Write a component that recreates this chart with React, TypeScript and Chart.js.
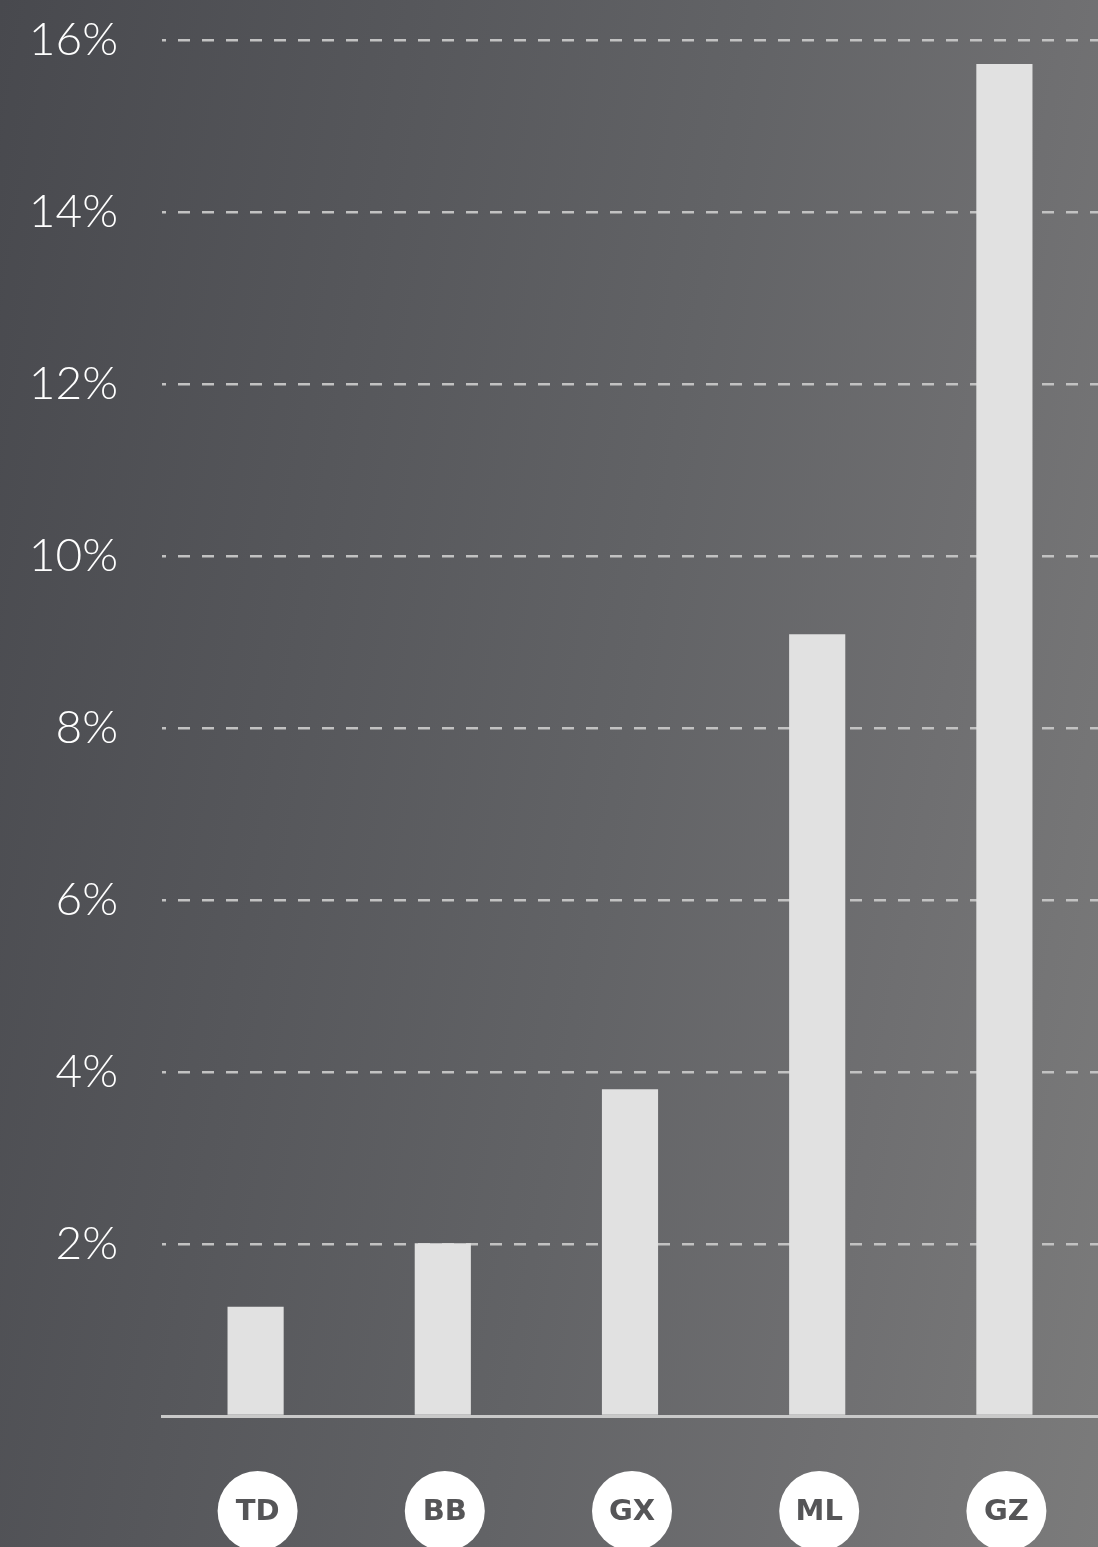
import React, { useEffect, useRef } from "react";
import { Chart, registerables } from "chart.js";

Chart.register(...registerables);

const categories = ["TD", "BB", "GX", "ML", "GZ"];
const values = [1.27, 2.01, 3.8, 9.09, 15.72];
const yTicks = [0, 2, 4, 6, 8, 10, 12, 14, 16];

const W = 1098;
const H = 1547;

const badgePlugin = {
  id: "badges",
  afterDraw(chart: any) {
    const ctx = chart.ctx;
    const xs = chart.scales.x;
    const cy = 1511;
    ctx.save();
    categories.forEach((c, i) => {
      const cx = xs.getPixelForValue(i) + 2;
      ctx.beginPath();
      ctx.arc(cx, cy, 40, 0, Math.PI * 2);
      ctx.fillStyle = "#ffffff";
      ctx.fill();
      ctx.fillStyle = "#555557";
      ctx.font = "bold 29px 'DejaVu Sans', sans-serif";
      ctx.textAlign = "center";
      ctx.textBaseline = "middle";
      ctx.fillText(c, cx, cy + 1);
    });
    ctx.restore();
  },
};

export default function App() {
  const ref = useRef<HTMLCanvasElement>(null);
  useEffect(() => {
    if (!ref.current) return;
    const chart = new Chart(ref.current, {
      type: "bar",
      data: {
        labels: categories,
        datasets: [
          {
            data: values,
            backgroundColor: "#e1e1e1",
            barPercentage: 0.3,
            categoryPercentage: 1,
          },
        ],
      },
      options: {
        animation: false,
        responsive: false,
        maintainAspectRatio: false,
        layout: { padding: { top: 40, bottom: 131, left: 0, right: 0 } },
        plugins: { legend: { display: false }, tooltip: { enabled: false } },
        scales: {
          x: {
            ticks: { display: false },
            grid: { display: false, drawTicks: false },
            border: { display: true, color: "#c9c9c9", width: 3 },
          },
          y: {
            min: 0,
            max: 16,
            afterFit(scale: any) {
              scale.width = 162;
              scale.paddingTop = 0;
              scale.paddingBottom = 0;
            },
            afterBuildTicks(scale: any) {
              scale.ticks = yTicks.map((v) => ({ value: v }));
            },
            ticks: {
              padding: 44,
              color: "#ffffff",
              font: { family: "Lato", size: 46, weight: "300" as any },
              callback: (v: any) => (v === 0 ? "" : v + "%"),
            },
            grid: {
              drawTicks: false,
              color: (c: any) => (c.tick && c.tick.value === 0 ? "rgba(0,0,0,0)" : "#c2c2c2"),
              lineWidth: 2.5,
            },
            border: { display: false, dash: [12, 12], dashOffset: 8 },
          },
        },
      },
      plugins: [badgePlugin],
    });
    return () => chart.destroy();
  }, []);
  return (
    <div
      style={{
        position: "absolute",
        left: 0,
        top: 0,
        width: W,
        height: H,
        background:
          "linear-gradient(100deg, #48494e 0%, #56575b 30%, #626366 55%, #6f6f71 78%, #7b7b7b 100%)",
      }}
    >
      <canvas ref={ref} width={W} height={H} style={{ display: "block" }} />
    </div>
  );
}
